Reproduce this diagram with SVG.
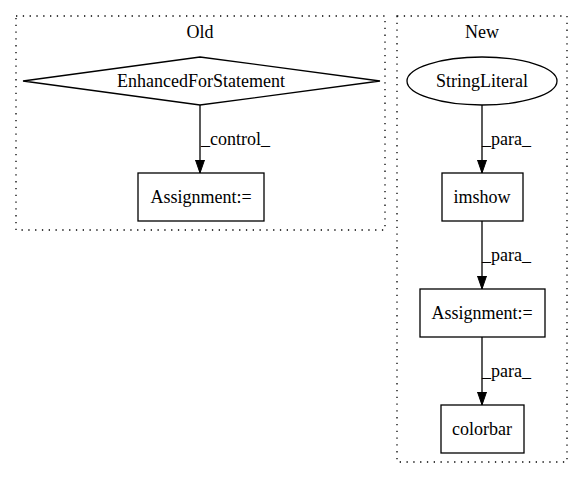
<svg xmlns="http://www.w3.org/2000/svg" width="584" height="480" viewBox="0 0 584 480">
<defs>
<style>
text{font-family:"Liberation Serif","Times New Roman",serif;font-size:18px;fill:#000}
.c{text-anchor:middle}
.cl{fill:none;stroke:#000;stroke-width:1.3;stroke-dasharray:1.3,5.5}
.n{fill:none;stroke:#000;stroke-width:1.3}
.e{fill:none;stroke:#000;stroke-width:1.3;marker-end:url(#ah)}
</style>
<marker id="ah" viewBox="0 0 13 10" refX="13" refY="5" markerWidth="13" markerHeight="10" markerUnits="userSpaceOnUse" orient="auto">
<path d="M0,0.5 L13,5 L0,9.5 Z" fill="#000" stroke="#000" stroke-width="1"/>
</marker>
</defs>
<rect width="584" height="480" fill="#fff"/>
<g id="cluster_old">
<rect class="cl" x="16" y="16" width="369" height="214"/>
<text class="c" x="200" y="38">Old</text>
</g>
<g id="cluster_new">
<rect class="cl" x="397" y="16" width="170" height="446"/>
<text class="c" x="482" y="38">New</text>
</g>
<g id="connectors">
<path class="e" d="M200,105 L200,173"/>
<text x="201" y="145">_control_</text>
<path class="e" d="M482,105 L482,173"/>
<text x="482" y="145">_para_</text>
<path class="e" d="M482,221 L482,289"/>
<text x="482" y="261">_para_</text>
<path class="e" d="M482,337 L482,405"/>
<text x="482" y="377">_para_</text>
</g>
<g id="node_efs">
<polygon class="n" points="200,57 380,81 200,105 23,81"/>
<text class="c" x="201" y="87">EnhancedForStatement</text>
</g>
<g id="node_assign_old">
<rect class="n" x="138" y="173" width="126" height="48"/>
<text class="c" x="201" y="203">Assignment:=</text>
</g>
<g id="node_string">
<ellipse class="n" cx="482" cy="81" rx="75" ry="24"/>
<text class="c" x="482" y="87">StringLiteral</text>
</g>
<g id="node_imshow">
<rect class="n" x="442" y="173" width="81" height="48"/>
<text class="c" x="482" y="203">imshow</text>
</g>
<g id="node_assign_new">
<rect class="n" x="420" y="289" width="125" height="48"/>
<text class="c" x="482" y="319">Assignment:=</text>
</g>
<g id="node_colorbar">
<rect class="n" x="441" y="405" width="83" height="48"/>
<text class="c" x="482" y="435">colorbar</text>
</g>
</svg>
